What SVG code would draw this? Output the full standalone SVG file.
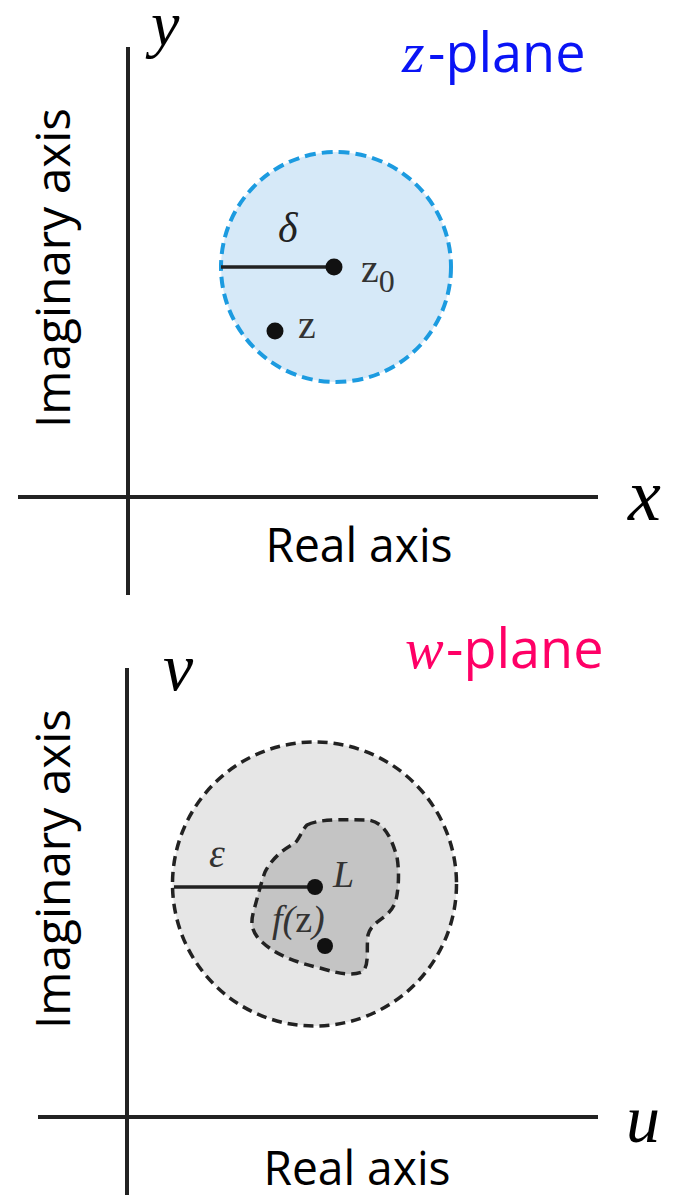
<svg xmlns="http://www.w3.org/2000/svg" width="692" height="1198" viewBox="0 0 692 1198">
<style>
.ax{stroke:#222;stroke-width:4;fill:none}
.lbl{font-family:"Open Sans","Noto Sans",sans-serif;font-size:48px;fill:#000}
.math{font-family:"Liberation Serif","DejaVu Serif",serif;font-style:italic}
.dot{fill:#111}
.ttl{font-family:"Open Sans","Noto Sans",sans-serif;font-size:54px}
.dash{stroke:#222;stroke-width:3.5;stroke-dasharray:10,6}
</style>
<rect width="692" height="1198" fill="#fff"/>
<g id="z-plane">
  <g id="z-axes">
    <line class="ax" x1="128" y1="47" x2="128" y2="595"/>
    <line class="ax" x1="18" y1="497" x2="598" y2="497"/>
  </g>
  <text class="math" x="151" y="45" font-size="64" fill="#000">y</text>
  <text class="math" x="628" y="520" font-size="74" fill="#000">x</text>
  <text class="ttl" x="402" y="72" style="fill:#0a14f5"><tspan class="math" font-size="58">z</tspan><tspan x="428">-plane</tspan></text>
  <text class="lbl" x="359" y="562" text-anchor="middle" textLength="187" lengthAdjust="spacingAndGlyphs">Real axis</text>
  <text class="lbl" transform="translate(70,268) rotate(-90)" text-anchor="middle" textLength="320" lengthAdjust="spacingAndGlyphs">Imaginary axis</text>
  <g id="delta-disk">
    <circle cx="336" cy="267" r="115" fill="#d6e9f8" stroke="#1c9be0" stroke-width="4" stroke-dasharray="11,6"/>
    <line x1="221" y1="267" x2="334" y2="267" stroke="#222" stroke-width="3.5"/>
    <circle class="dot" cx="334" cy="267" r="8.5"/>
    <circle class="dot" cx="275" cy="331" r="8.5"/>
    <text class="math" x="278" y="242" font-size="42" fill="#222">δ</text>
    <text x="361" y="282" font-size="40" fill="#333" font-family="Liberation Serif,serif">z<tspan font-size="32" dy="10">0</tspan></text>
    <text x="298" y="338" font-size="40" fill="#333" font-family="Liberation Serif,serif">z</text>
  </g>
</g>
<g id="w-plane">
  <g id="w-axes">
    <line class="ax" x1="127" y1="668" x2="127" y2="1195" stroke-width="3"/>
    <line class="ax" x1="38" y1="1117" x2="598" y2="1117" stroke-width="3"/>
  </g>
  <text class="math" x="163" y="690" font-size="68" fill="#000">v</text>
  <text class="math" x="626" y="1142" font-size="68" fill="#000">u</text>
  <text class="ttl" x="405" y="668" style="fill:#ff0066"><tspan class="math" font-size="58">w</tspan><tspan x="446">-plane</tspan></text>
  <text class="lbl" x="357" y="1185" text-anchor="middle" textLength="187" lengthAdjust="spacingAndGlyphs">Real axis</text>
  <text class="lbl" transform="translate(70,869) rotate(-90)" text-anchor="middle" textLength="320" lengthAdjust="spacingAndGlyphs">Imaginary axis</text>
  <g id="epsilon-disk">
    <circle class="dash" cx="314.5" cy="884" r="142" fill="#e6e6e6"/>
    <path class="dash" d="M307,825 C320,818 350,820 368,820 C385,822 392,840 397,857 C400,875 398,895 395,903 C388,920 372,920 368,935 C366,950 370,965 362,972 C352,976 340,974 320,968 C295,962 275,955 260,940 C250,930 251,920 254,910 C258,895 262,880 265,872 C272,858 285,848 295,843 C300,838 302,830 307,825 Z" fill="#c4c4c4"/>
    <line x1="174" y1="887" x2="315" y2="887" stroke="#222" stroke-width="3.5"/>
    <circle class="dot" cx="315" cy="887" r="8"/>
    <circle class="dot" cx="325" cy="946" r="8"/>
    <text class="math" x="209" y="867" font-size="40" fill="#333">ε</text>
    <text class="math" x="333" y="887" font-size="38" fill="#333">L</text>
    <text class="math" x="272" y="932" font-size="38" fill="#333">f(<tspan style="font-style:normal">z</tspan>)</text>
  </g>
</g>
</svg>
